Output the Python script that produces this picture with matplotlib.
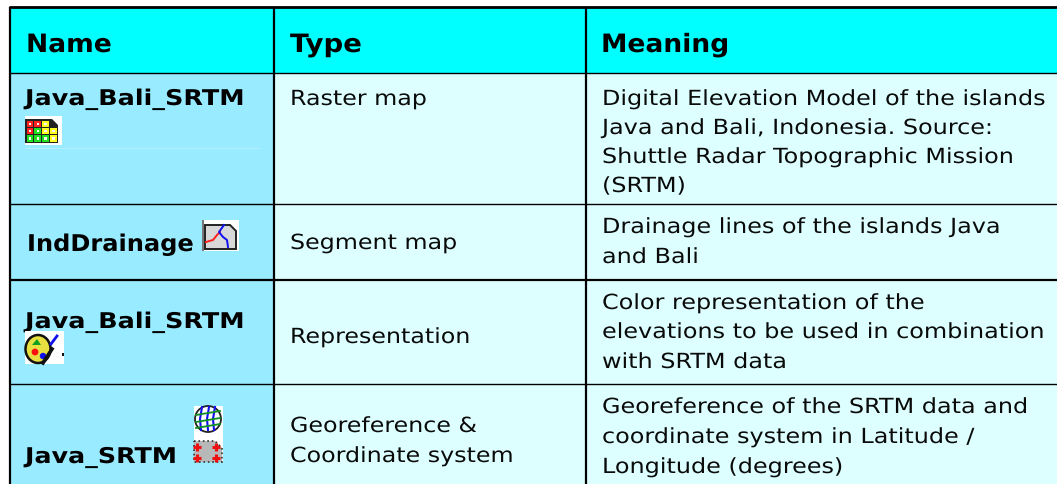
import matplotlib
matplotlib.use('Agg')
import matplotlib.pyplot as plt
from matplotlib.patches import Rectangle, Polygon, Circle, Ellipse
from matplotlib.patheffects import AbstractPathEffect
from matplotlib.transforms import Affine2D

W, H = 1057, 485

headers = ['Name', 'Type', 'Meaning']
names = ['Java_Bali_SRTM', 'IndDrainage', 'Java_Bali_SRTM', 'Java_SRTM']
types = [['Raster map'], ['Segment map'], ['Representation'],
         ['Georeference &', 'Coordinate system']]
meanings = [
    ['Digital Elevation Model of the islands', 'Java and Bali, Indonesia. Source:',
     'Shuttle Radar Topographic Mission', '(SRTM)'],
    ['Drainage lines of the islands Java', 'and Bali'],
    ['Color representation of the', 'elevations to be used in combination', 'with SRTM data'],
    ['Georeference of the SRTM data and', 'coordinate system in Latitude /', 'Longitude (degrees)'],
]

# layout in image pixels
col_x = [10, 274, 586, 1057]
row_y = [8, 74, 205, 281, 385, 485]
name_base = [106, 252, 329, 464]
name_x = [25, 27, 25, 25]
name_size = [15.6, 16.6, 15.6, 15.6]
name_wide = [1.176, 1.045, 1.176, 1.17]
type_base = [[106], [250], [344], [433, 463]]
mean_base = [[106, 135, 164, 193], [234, 264], [310, 339, 369], [414, 444, 474]]


# the original font (Verdana) is wider than DejaVu Sans
class Wide(AbstractPathEffect):
    def __init__(self, sx, x0):
        super().__init__()
        self.sx = sx
        self.x0 = x0

    def draw_path(self, renderer, gc, tpath, affine, rgbFace=None):
        t = Affine2D().translate(-self.x0, 0).scale(self.sx, 1).translate(self.x0, 0)
        renderer.draw_path(gc, tpath, affine + t, rgbFace)


def label(x, y, s, size, wide, weight='normal', color='#0a0a0a'):
    ax.text(x, y, s, fontsize=size, fontweight=weight, color=color,
            path_effects=[Wide(wide, x)])


fig = plt.figure(figsize=(W / 100, H / 100), dpi=100)
ax = fig.add_axes([0, 0, 1, 1])
ax.set_xlim(0, W)
ax.set_ylim(H, 0)
ax.axis('off')


def box(x, y, w, h, c, z=3):
    ax.add_patch(Rectangle((x, y), w, h, fc=c, ec='none', zorder=z))


# backgrounds
box(col_x[0], row_y[0], W - col_x[0], row_y[1] - row_y[0], '#00ffff', 1)
box(col_x[0], row_y[1], col_x[1] - col_x[0], H - row_y[1], '#99ebff', 1)
box(col_x[1], row_y[1], W - col_x[1], H - row_y[1], '#ddffff', 1)

# grid
ax.hlines(row_y[0], col_x[0] - 1, W, color='black', lw=2.0, zorder=2)
for y, lw in zip(row_y[1:5], [1.0, 1.0, 1.6, 1.0]):
    ax.hlines(y, col_x[0], W, color='black', lw=lw, zorder=2)
for x in col_x[:3]:
    ax.vlines(x, row_y[0], H, color='black', lw=1.6, zorder=2)
ax.hlines(148.5, 25, 259, color='#b5f0ff', lw=0.7, zorder=2)

# text
label(26, 53, headers[0], 18.2, 1.05, 'bold', 'black')
label(290, 53, headers[1], 18.2, 1.09, 'bold', 'black')
label(601, 53, headers[2], 18.2, 1.05, 'bold', 'black')
for i in range(4):
    label(name_x[i], name_base[i], names[i], name_size[i], name_wide[i], 'bold', 'black')
    for s, y in zip(types[i], type_base[i]):
        label(290, y, s, 15, 1.14)
    for s, y in zip(meanings[i], mean_base[i]):
        label(602, y, s, 15, 1.147)

# raster icon
box(25, 117, 37, 29, 'white')
ax.add_patch(Polygon([(25, 120), (52, 120), (58, 126), (58, 144), (25, 144)],
                     fc='#222222', ec='none', zorder=4))
for r, row in enumerate([['#ff2020', '#ff2020', '#ffff20', '#222222'],
                         ['#ff2020', '#20e020', '#ffff20', '#ffff20'],
                         ['#20e020', '#20e020', '#20e020', '#ffff20']]):
    for c, col in enumerate(row):
        if col != '#222222':
            box(26.5 + c * 7.8, 121.5 + r * 7.4, 6.8, 6.2, col, 5)
            box(28.8 + c * 7.8, 123.5 + r * 7.4, 2.4, 2.2, '#fff4f4', 6)

# segment icon
box(202, 221, 37, 31, 'white')
box(202, 221, 2, 31, '#777777', 4)
ax.add_patch(Polygon([(205, 226), (230, 226), (236, 232), (236, 250), (205, 250)],
                     fc='#d8d8d8', ec='#222222', lw=1.4, zorder=4))
ax.plot([206, 213, 217, 220], [243, 241, 236, 233], color='#ff2020', lw=1.4, zorder=5)
ax.plot([224, 219, 223, 227, 228], [226, 233, 238, 241, 248], color='#1010ee', lw=1.4, zorder=5)

# representation icon
box(25, 332, 39, 33, 'white')
ax.add_patch(Ellipse((38, 350), 25, 28, fc='#e8e040', ec='#111111', lw=1.8, zorder=4))
ax.add_patch(Polygon([(32, 346), (37, 340), (41, 346)], fc='#10a020', ec='none', zorder=5))
ax.add_patch(Circle((35, 353), 3.4, fc='#ff1010', ec='none', zorder=5))
ax.add_patch(Circle((43, 357), 3.2, fc='#1010ee', ec='none', zorder=5))
ax.plot([43, 52], [364, 350], color='#111111', lw=2.6, zorder=5)
ax.plot([51, 57], [345, 337], color='#1010ee', lw=2.0, zorder=5)
box(62, 354, 2, 3, '#111111', 5)

# georeference and coordinate system icons
box(194, 407, 29, 56, 'white')
ax.add_patch(Ellipse((208, 420), 26, 26, fc='white', ec='#222222', lw=1.3, zorder=4))
for dx in (-6, 1, 7):
    ax.plot([208 + dx, 206 + dx, 207 + dx], [408, 420, 431], color='#1010ee', lw=1.5, zorder=5)
for y in (414, 421, 427):
    ax.plot([196, 208, 220], [y + 2, y, y - 2], color='#10901f', lw=1.3, zorder=5)
ax.add_patch(Polygon([(194, 442), (215, 442), (222, 449), (222, 463), (194, 463)],
                     fc='#b8b8b8', ec='#333333', lw=1.2, ls=':', zorder=4))
for x, y in [(197, 448), (216, 448), (197, 459), (216, 459)]:
    ax.plot(x, y, marker='+', ms=6, mew=2.2, color='#ee1010', zorder=5)

fig.savefig('out.png', dpi=100)
